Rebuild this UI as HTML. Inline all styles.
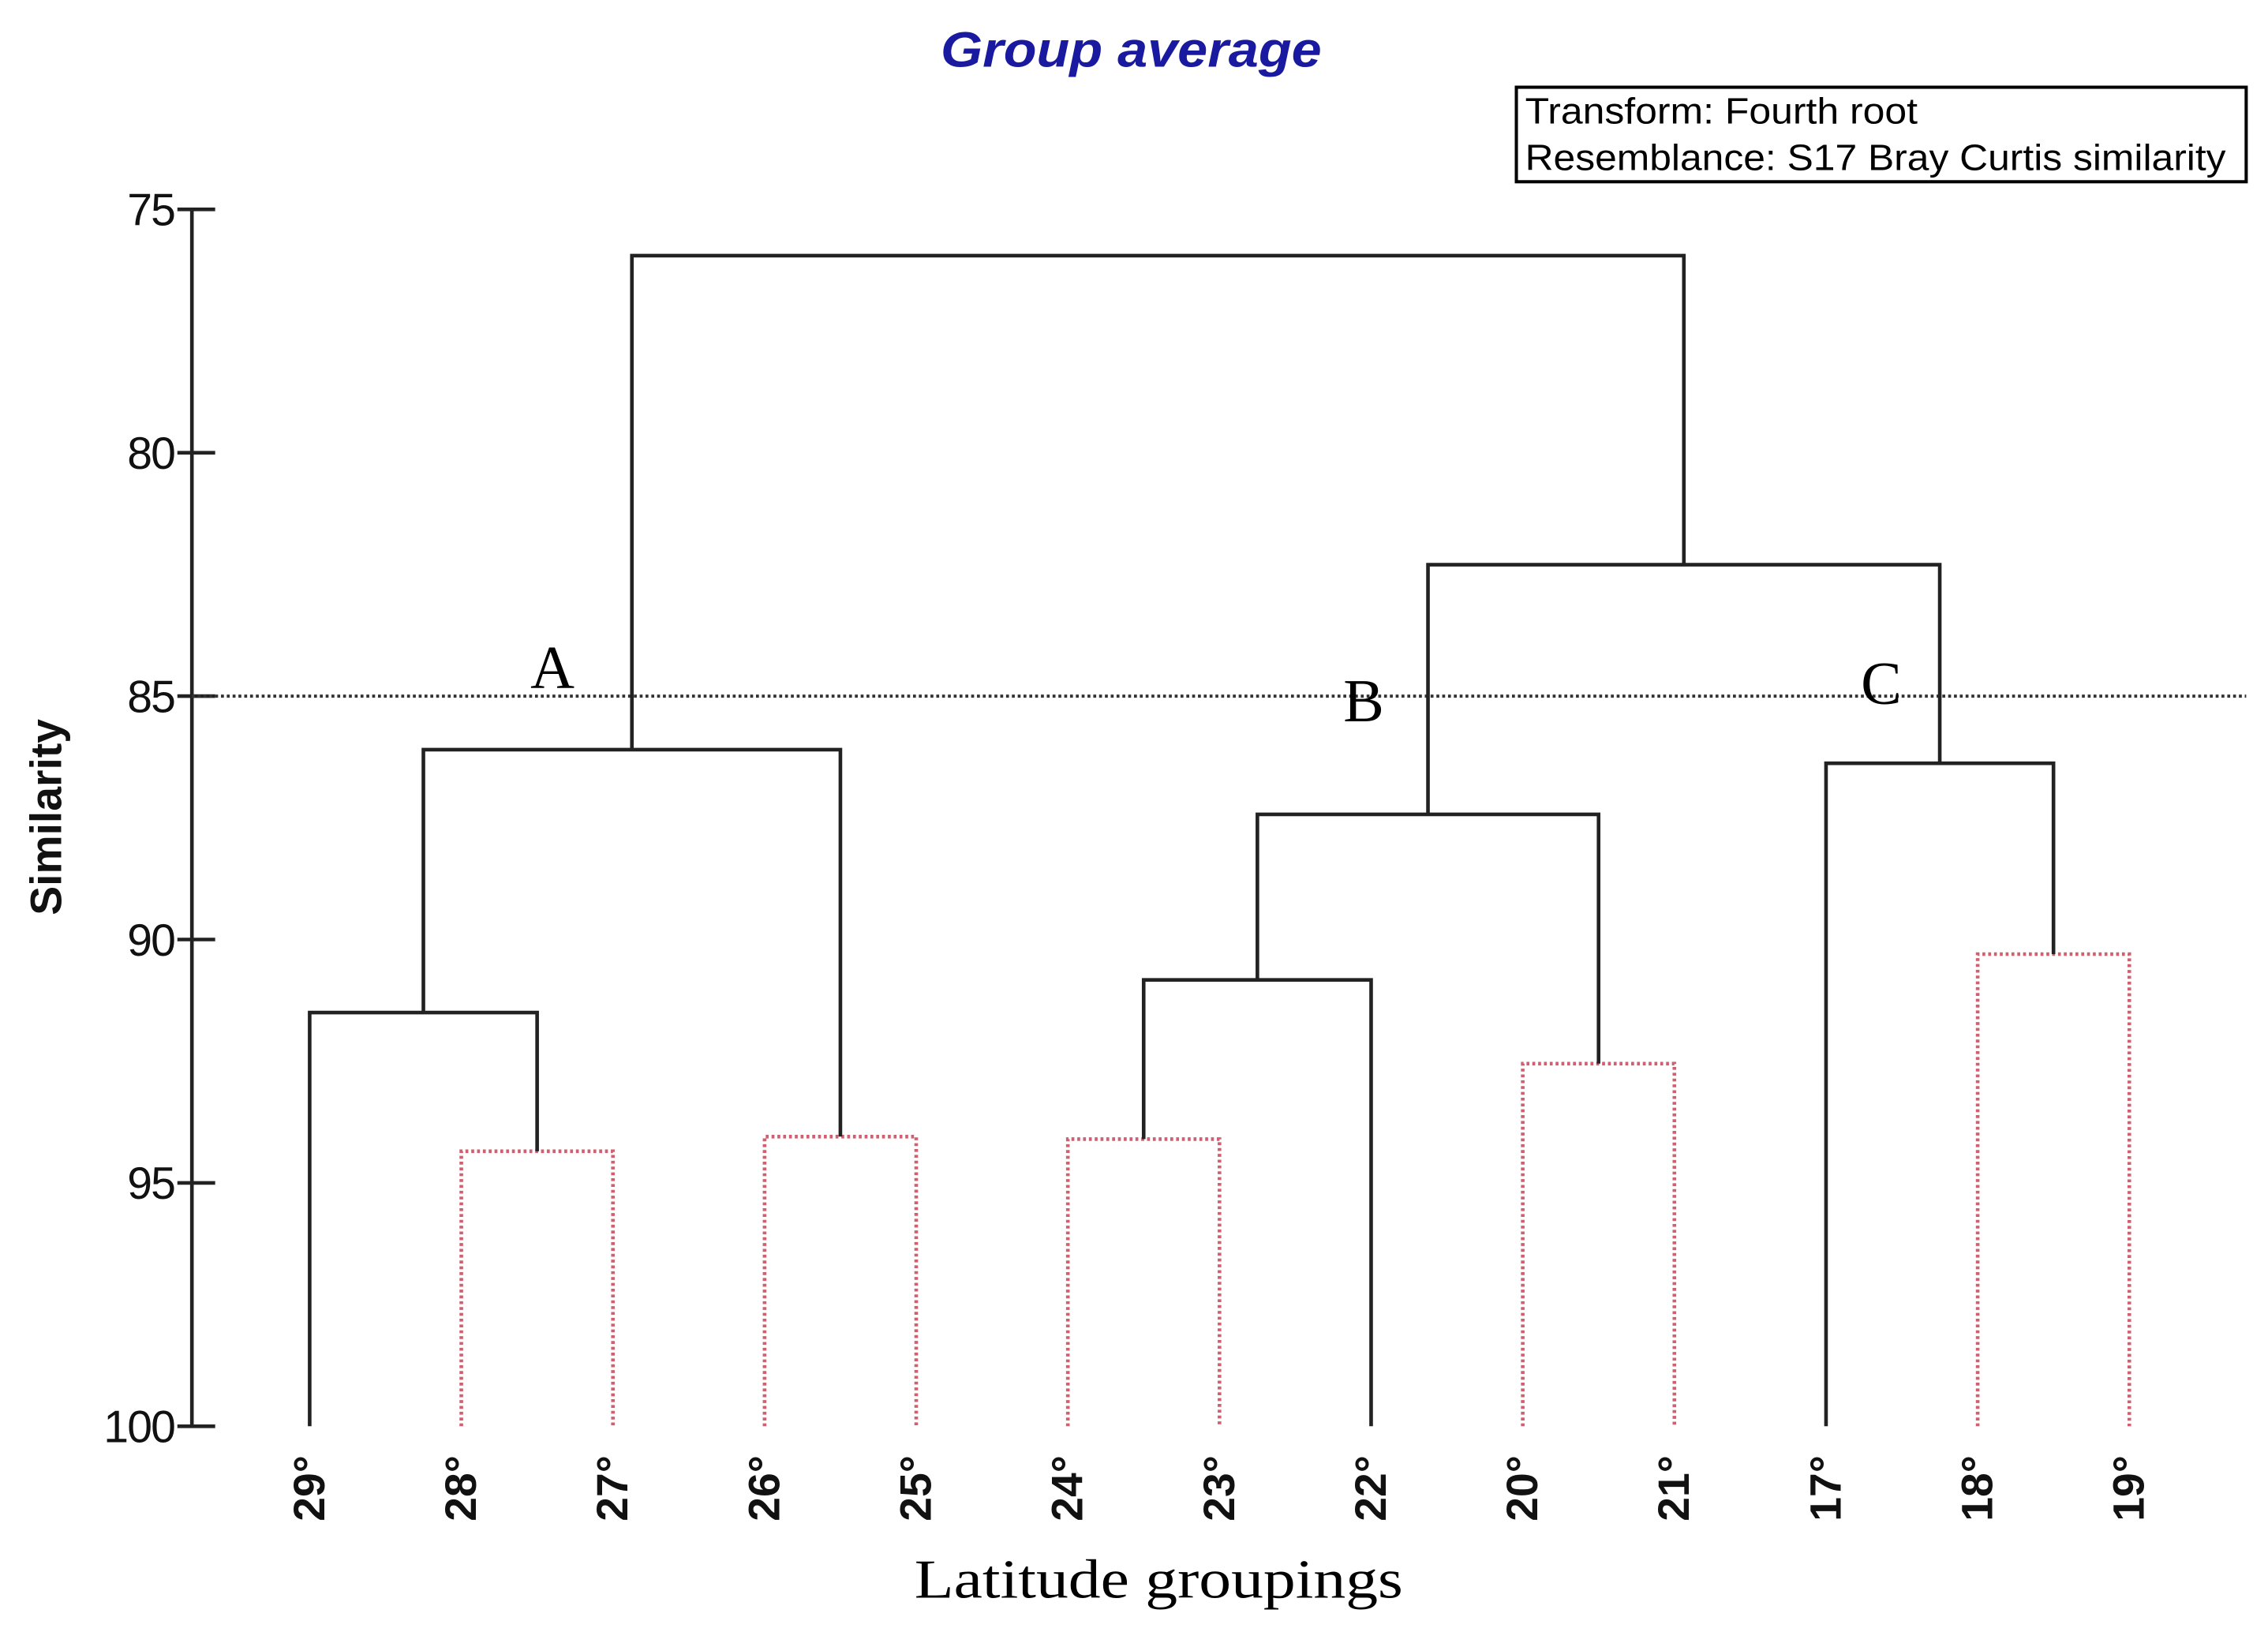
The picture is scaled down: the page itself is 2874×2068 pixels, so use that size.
<!DOCTYPE html>
<html><head><meta charset="utf-8"><style>
html,body{margin:0;padding:0;background:#fff;}
svg{display:block;}
</style></head><body>
<svg id="chart" width="2874" height="2068" viewBox="0 0 1560 1122.5" preserveAspectRatio="none" xmlns="http://www.w3.org/2000/svg">
<text x="778" y="46" text-anchor="middle" font-family="Liberation Sans, sans-serif" font-size="34" font-style="italic" font-weight="bold" fill="#1a1aa0" textLength="262" lengthAdjust="spacingAndGlyphs">Group average</text>
<g>
<rect x="1043" y="60" width="502" height="65" fill="#fff" stroke="#000" stroke-width="2.2"/>
<text x="1049" y="85" font-family="Liberation Sans, sans-serif" font-size="25" fill="#000" textLength="270" lengthAdjust="spacingAndGlyphs">Transform: Fourth root</text>
<text x="1049" y="117" font-family="Liberation Sans, sans-serif" font-size="25" fill="#000" textLength="482" lengthAdjust="spacingAndGlyphs">Resemblance: S17 Bray Curtis similarity</text>
</g>
<g id="axis"></g>
<g id="marks"></g>
<g id="labels"></g>
<text transform="translate(42,562) rotate(-90)" text-anchor="middle" font-family="Liberation Sans, sans-serif" font-size="30" font-weight="bold" fill="#111">Similarity</text>
<text x="797" y="1099" text-anchor="middle" font-family="Liberation Serif, serif" font-size="38" fill="#000" textLength="336" lengthAdjust="spacingAndGlyphs">Latitude groupings</text>
<text x="380" y="473" text-anchor="middle" font-family="Liberation Serif, serif" font-size="42" fill="#000">A</text>
<text x="938" y="496" text-anchor="middle" font-family="Liberation Serif, serif" font-size="42" fill="#000">B</text>
<text x="1294" y="484" text-anchor="middle" font-family="Liberation Serif, serif" font-size="42" fill="#000">C</text>
</svg>
<script>
const leaves = ["29°","28°","27°","26°","25°","24°","23°","22°","20°","21°","17°","18°","19°"];
const yTicks = [75,80,85,90,95,100];
const cutLevel = 85;
const mergePairs = [[1,2],[3,4],[5,6],[8,9],[11,12],[0,13],[15,7],[18,14],[19,16],[10,17],[21,22],[20,23]];
const mergeSim = [94.35,94.05,94.1,92.55,90.3,91.5,90.83,86.1,87.43,86.38,82.3,75.95];
const mergeRed = [true,true,true,true,true,false,false,false,false,false,false,false];

const NS="http://www.w3.org/2000/svg";
const x0=213, dx=104.3, yTop=144, yPer=33.48, axisX=132;
const xs=i=>x0+i*dx;
const ys=v=>yTop+(v-75)*yPer;
function mk(tag,attrs,parent){const e=document.createElementNS(NS,tag);for(const k in attrs)e.setAttribute(k,attrs[k]);parent.appendChild(e);return e;}
const axis=document.getElementById('axis'), marks=document.getElementById('marks'), labels=document.getElementById('labels');
const axLine=mk('line',{x1:axisX,y1:ys(75),x2:axisX,y2:ys(100),stroke:'#222','stroke-width':2.5},axis);


yTicks.forEach(t=>{
  const l=mk('line',{x1:axisX-10,y1:ys(t),x2:axisX+16,y2:ys(t),stroke:'#222','stroke-width':2.5},axis);
  
  
  const tx=mk('text',{x:axisX-12,y:ys(t)+11,'text-anchor':'end','font-family':'Liberation Sans, sans-serif','font-size':31,fill:'#111','letter-spacing':'-1'},axis);
  tx.textContent=t;
  
  
});
const cut=mk('line',{x1:axisX,y1:ys(cutLevel),x2:1545,y2:ys(cutLevel),stroke:'#333','stroke-width':2.2,'stroke-dasharray':'2 2'},marks);


const nodeX=[], nodeY=[];
leaves.forEach((lab,i)=>{
  nodeX[i]=xs(i); nodeY[i]=ys(100);
  const t=mk('text',{transform:`translate(${xs(i)+10},${ys(100)+20}) rotate(-90)`,'text-anchor':'end','font-family':'Liberation Sans, sans-serif','font-size':30,'font-weight':'bold',fill:'#111'},labels);
  t.textContent=lab;
  
  
});
mergePairs.forEach((p,k)=>{
  const id=leaves.length+k, y=ys(mergeSim[k]);
  const [a,b]=p;
  const col=mergeRed[k]?'#d06070':'#222', dash=mergeRed[k]?'2 2':'none';
  const pth=mk('path',{d:`M${nodeX[a]},${nodeY[a]}V${y}H${nodeX[b]}V${nodeY[b]}`,fill:'none',stroke:col,'stroke-width':2.5,'stroke-dasharray':dash},marks);
  
  
  nodeX[id]=(nodeX[a]+nodeX[b])/2; nodeY[id]=y;
});
</script>
</body></html>
